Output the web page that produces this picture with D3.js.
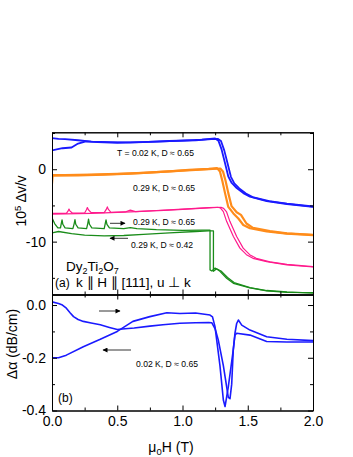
<!DOCTYPE html>
<html>
<head>
<meta charset="utf-8">
<script src="https://cdn.jsdelivr.net/npm/d3@7"></script>
<style>
  body { margin: 0; background: #fff; }
  text { font-family: "Liberation Sans", Arial, sans-serif; fill: #000; }
</style>
</head>
<body>
<div id="chart"></div>
<script>
// field axis ticks
const xMajor = [0, 0.5, 1, 1.5, 2]
const xMinor = [0.25, 0.75, 1.25, 1.75]
const yaMajor = [-10, 0]
const yaMinor = [-15, -5, 5]
const ybMajor = [-0.4, -0.2, 0]
const ybMinor = [-0.3, -0.1]

// panel (a): 10^5 dv/v, [H, value]
const blueUp = [[0, 4.3], [0.05, 4.2], [0.1, 4.15], [0.2, 4.0], [0.3, 3.8], [0.45, 3.75], [0.6, 3.7], [0.8, 3.8], [1.0, 3.95], [1.15, 4.1], [1.25, 4.25], [1.275, 3.95], [1.3, 2.7], [1.326, 0.83], [1.351, -1.0], [1.377, -1.9], [1.415, -2.6], [1.466, -3.3], [1.517, -3.8], [1.645, -4.4], [1.8, -4.8], [2.0, -5.2]]
const blueDown = [[0, 2.6], [0.08, 2.9], [0.15, 3.0], [0.2, 3.55], [0.26, 3.85], [0.35, 3.75], [0.5, 3.65], [0.7, 3.75], [0.9, 3.9], [1.1, 4.0], [1.22, 4.15], [1.27, 4.2], [1.295, 3.9], [1.32, 2.6], [1.346, 0.75], [1.371, -1.05], [1.397, -1.95], [1.435, -2.65], [1.486, -3.35], [1.537, -3.85], [1.665, -4.4], [1.8, -4.75], [2.0, -5.15]]
const orangeUp = [[0, -2.0], [0.005, -0.8], [0.1, -0.8], [0.3, -0.75], [0.5, -0.65], [0.7, -0.5], [0.9, -0.3], [1.05, -0.1], [1.2, 0.05], [1.265, 0.15], [1.287, -0.3], [1.305, -1.6], [1.326, -3.3], [1.351, -5.2], [1.39, -6.1], [1.428, -6.8], [1.466, -7.7], [1.517, -8.15], [1.645, -8.6], [1.8, -8.9], [2.0, -9.1]]
const orangeDown = [[0, -0.9], [0.2, -0.85], [0.4, -0.75], [0.6, -0.6], [0.8, -0.4], [1.0, -0.2], [1.2, 0.0], [1.29, 0.1], [1.31, -0.3], [1.33, -1.6], [1.351, -3.3], [1.376, -5.1], [1.415, -5.95], [1.448, -6.3], [1.49, -7.5], [1.54, -8.1], [1.67, -8.55], [1.8, -8.85], [2.0, -9.05]]
const pinkUp = [[0, -6.1], [0.11, -6.1], [0.124, -5.75], [0.13, -5.5], [0.137, -5.75], [0.155, -6.05], [0.25, -6.05], [0.264, -5.6], [0.271, -5.3], [0.279, -5.6], [0.3, -6.0], [0.4, -6.0], [0.416, -5.55], [0.424, -5.2], [0.432, -5.55], [0.452, -5.95], [0.56, -5.9], [0.6, -5.65], [0.64, -5.85], [0.8, -5.7], [1.0, -5.5], [1.2, -5.3], [1.27, -5.25], [1.29, -5.35], [1.313, -5.86], [1.338, -7.2], [1.39, -9.3], [1.44, -10.9], [1.49, -11.8], [1.54, -12.3], [1.645, -12.76], [1.8, -13.2], [2.0, -13.5]]
const pinkDown = [[0, -6.2], [0.3, -6.1], [0.6, -5.9], [0.9, -5.65], [1.2, -5.35], [1.295, -5.25], [1.315, -5.4], [1.338, -5.9], [1.363, -7.2], [1.415, -9.3], [1.465, -10.9], [1.515, -11.8], [1.565, -12.3], [1.67, -12.8], [1.8, -13.15], [2.0, -13.45]]
const greenUp = [[0, -6.7], [0.02, -7.5], [0.045, -8.1], [0.065, -8.1], [0.071, -7.5], [0.077, -7.0], [0.083, -7.6], [0.1, -8.1], [0.16, -8.2], [0.17, -7.5], [0.176, -6.95], [0.182, -7.6], [0.2, -8.1], [0.265, -8.2], [0.274, -7.5], [0.28, -6.9], [0.287, -7.6], [0.305, -8.1], [0.4, -8.2], [0.408, -7.5], [0.414, -7.0], [0.421, -7.6], [0.44, -8.1], [0.55, -8.2], [0.6, -8.05], [0.65, -8.2], [0.8, -8.35], [1.0, -8.45], [1.15, -8.4], [1.211, -8.4], [1.211, -13.9], [1.225, -14.05], [1.25, -13.65], [1.287, -14.1], [1.338, -15.05], [1.39, -15.75], [1.517, -16.4], [1.645, -16.8], [1.8, -17.0], [2.0, -17.05]]
const greenDown = [[0, -8.8], [0.05, -8.6], [0.15, -8.9], [0.25, -9.1], [0.4, -9.2], [0.55, -9.15], [0.7, -9.0], [0.9, -8.8], [1.1, -8.6], [1.2, -8.5], [1.237, -8.5], [1.237, -14.1], [1.262, -13.75], [1.295, -14.05], [1.345, -14.95], [1.395, -15.65], [1.517, -16.35], [1.645, -16.75], [1.8, -16.95], [2.0, -17.1]]

// panel (b): attenuation dα (dB/cm)
const alphaUp = [[0, 0.012], [0.05, 0.006], [0.08, 0.0], [0.11, -0.012], [0.14, -0.03], [0.165, -0.044], [0.2, -0.055], [0.24, -0.062], [0.3, -0.068], [0.37, -0.075], [0.44, -0.085], [0.5, -0.093], [0.56, -0.09], [0.63, -0.087], [0.75, -0.08], [0.85, -0.075], [0.98, -0.069], [1.1, -0.067], [1.2, -0.066], [1.224, -0.067], [1.25, -0.09], [1.274, -0.132], [1.313, -0.23], [1.351, -0.35], [1.364, -0.355], [1.377, -0.3], [1.389, -0.17], [1.402, -0.114], [1.415, -0.107], [1.517, -0.114], [1.645, -0.138], [1.8, -0.14], [2.0, -0.14]]
const alphaDown = [[0, -0.2], [0.05, -0.2], [0.11, -0.19], [0.24, -0.158], [0.37, -0.13], [0.5, -0.1], [0.62, -0.062], [0.75, -0.044], [0.88, -0.029], [0.98, -0.032], [1.1, -0.03], [1.211, -0.038], [1.23, -0.045], [1.249, -0.082], [1.287, -0.23], [1.313, -0.36], [1.326, -0.385], [1.351, -0.31], [1.389, -0.17], [1.402, -0.107], [1.415, -0.07], [1.428, -0.057], [1.454, -0.076], [1.517, -0.095], [1.645, -0.12], [1.8, -0.13], [2.0, -0.135]]

const svg = d3
  .select('#chart')
  .append('svg')
  .attr('width', 353)
  .attr('height', 457)

const x = d3.scaleLinear().domain([0, 2]).range([52, 313])
const yA = d3.scaleLinear().domain([-17.3, 5.1]).range([294.5, 132.3])
const yB = d3.scaleLinear().domain([-0.4, 0.04]).range([410.5, 294.5])

// arrow heads
const defs = svg.append('defs')
defs.append('marker')
  .attr('id', 'head')
  .attr('viewBox', '0 0 10 10')
  .attr('refX', 9)
  .attr('refY', 5)
  .attr('markerWidth', 6)
  .attr('markerHeight', 5)
  .attr('markerUnits', 'userSpaceOnUse')
  .attr('orient', 'auto')
  .append('path')
  .attr('d', 'M0,0L10,5L0,10Z')
  .attr('fill', '#000')

// curves, clipped to each panel
defs.append('clipPath').attr('id', 'clipA')
  .append('rect').attr('x', 52).attr('y', 132.3).attr('width', 261).attr('height', 162.2)
defs.append('clipPath').attr('id', 'clipB')
  .append('rect').attr('x', 52).attr('y', 294.5).attr('width', 261).attr('height', 116)

const lineA = d3.line().x(d => x(d[0])).y(d => yA(d[1]))
const lineB = d3.line().x(d => x(d[0])).y(d => yB(d[1]))

const seriesA = [
  { data: blueUp, color: '#1a1aff', w: 1.8 },
  { data: blueDown, color: '#1a1aff', w: 1.8 },
  { data: orangeUp, color: '#ff8c1a', w: 2.2 },
  { data: orangeDown, color: '#ff8c1a', w: 2.2 },
  { data: pinkUp, color: '#ff1a8c', w: 1.2 },
  { data: pinkDown, color: '#ff1a8c', w: 1.2 },
  { data: greenUp, color: '#1a8c1a', w: 1.3 },
  { data: greenDown, color: '#1a8c1a', w: 1.3 }
]

svg.append('g')
  .attr('clip-path', 'url(#clipA)')
  .selectAll('path')
  .data(seriesA)
  .enter()
  .append('path')
  .attr('d', d => lineA(d.data))
  .attr('fill', 'none')
  .attr('stroke', d => d.color)
  .attr('stroke-width', d => d.w)
  .attr('stroke-linejoin', 'round')

svg.append('g')
  .attr('clip-path', 'url(#clipB)')
  .selectAll('path')
  .data([alphaUp, alphaDown])
  .enter()
  .append('path')
  .attr('d', d => lineB(d))
  .attr('fill', 'none')
  .attr('stroke', '#1a1aff')
  .attr('stroke-width', 1.6)
  .attr('stroke-linejoin', 'round')

// axes: all ticks point inward
function addAxis(axis, tx, ty, vals, size, fmt) {
  const g = svg.append('g')
    .attr('transform', 'translate(' + tx + ',' + ty + ')')
    .call(axis.tickValues(vals).tickSize(size).tickSizeOuter(0).tickPadding(6)
      .tickFormat(fmt || ''))
  g.selectAll('text').attr('font-size', 14).attr('font-family', '"Liberation Sans", Arial, sans-serif')
  g.selectAll('line').attr('stroke', '#000')
  g.select('.domain').attr('stroke', '#000')
  return g
}

// x axes
const xb = addAxis(d3.axisBottom(x), 0, 410.5, xMajor, -5, d => d.toFixed(1))
xb.selectAll('text').attr('y', 6)
addAxis(d3.axisBottom(x), 0, 410.5, xMinor, -3)
addAxis(d3.axisTop(x), 0, 294.5, xMajor, -5)
addAxis(d3.axisTop(x), 0, 294.5, xMinor, -3)
addAxis(d3.axisBottom(x), 0, 294.5, xMajor, -5)
addAxis(d3.axisBottom(x), 0, 294.5, xMinor, -3)
addAxis(d3.axisTop(x), 0, 132.3, xMajor, -5)
addAxis(d3.axisTop(x), 0, 132.3, xMinor, -3)

// y axes panel (a)
addAxis(d3.axisLeft(yA), 52, 0, yaMajor, -5, d => String(d))
addAxis(d3.axisLeft(yA), 52, 0, yaMinor, -3)
addAxis(d3.axisRight(yA), 313, 0, yaMajor, -5)
addAxis(d3.axisRight(yA), 313, 0, yaMinor, -3)

// y axes panel (b)
addAxis(d3.axisLeft(yB), 52, 0, ybMajor, -5, d => d.toFixed(1))
addAxis(d3.axisLeft(yB), 52, 0, ybMinor, -3)
addAxis(d3.axisRight(yB), 313, 0, ybMajor, -5)
addAxis(d3.axisRight(yB), 313, 0, ybMinor, -3)

// axis titles
const xt = svg.append('text')
  .attr('x', 171).attr('y', 451.5)
  .attr('text-anchor', 'middle')
  .attr('font-size', 14)
xt.append('tspan').text('μ')
xt.append('tspan').attr('font-size', 9.5).attr('dy', 3).text('0')
xt.append('tspan').attr('dy', -3).text('H (T)')

const ya = svg.append('text')
  .attr('transform', 'translate(26,201) rotate(-90)')
  .attr('text-anchor', 'middle')
  .attr('font-size', 14)
ya.append('tspan').text('10')
ya.append('tspan').attr('font-size', 9.5).attr('dy', -5).text('5')
ya.append('tspan').attr('dy', 5).text(' Δv/v')

svg.append('text')
  .attr('transform', 'translate(17,344) rotate(-90)')
  .attr('text-anchor', 'middle')
  .attr('font-size', 14)
  .text('Δα (dB/cm)')

// annotations
const notes = [
  { t: 'T = 0.02 K, D ≈ 0.65', x: 117, y: 156 },
  { t: '0.29 K, D ≈ 0.65', x: 133, y: 190.7 },
  { t: '0.29 K, D ≈ 0.65', x: 133, y: 224.5 },
  { t: '0.29 K, D ≈ 0.42', x: 131, y: 247.5 },
  { t: '0.02 K, D ≈ 0.65', x: 136, y: 366.5 }
]
svg.selectAll('.note')
  .data(notes)
  .enter()
  .append('text')
  .attr('class', 'note')
  .attr('x', d => d.x)
  .attr('y', d => d.y)
  .attr('font-size', 8.6)
  .text(d => d.t)

const arrows = [
  { x1: 110, x2: 125, y: 223.3 },
  { x1: 128, x2: 110, y: 238.3 },
  { x1: 99, x2: 120, y: 311 },
  { x1: 131, x2: 103, y: 350 }
]
svg.selectAll('.arr')
  .data(arrows)
  .enter()
  .append('line')
  .attr('class', 'arr')
  .attr('x1', d => d.x1)
  .attr('x2', d => d.x2)
  .attr('y1', d => d.y)
  .attr('y2', d => d.y)
  .attr('stroke', '#000')
  .attr('stroke-width', 0.8)
  .attr('marker-end', 'url(#head)')

const dy = svg.append('text')
  .attr('x', 66).attr('y', 270.5)
  .attr('font-size', 13.5)
dy.append('tspan').text('Dy')
dy.append('tspan').attr('font-size', 9).attr('dy', 3).text('2')
dy.append('tspan').attr('dy', -3).text('Ti')
dy.append('tspan').attr('font-size', 9).attr('dy', 3).text('2')
dy.append('tspan').attr('dy', -3).text('O')
dy.append('tspan').attr('font-size', 9).attr('dy', 3).text('7')

svg.append('text')
  .attr('x', 55).attr('y', 287)
  .attr('font-size', 12)
  .text('(a)')

svg.append('text')
  .attr('x', 76).attr('y', 287)
  .attr('font-size', 13.5)
  .text('k ∥ H ∥ [111], u ⊥ k')

svg.append('text')
  .attr('x', 58).attr('y', 401.5)
  .attr('font-size', 12)
  .text('(b)')
</script>
</body>
</html>
